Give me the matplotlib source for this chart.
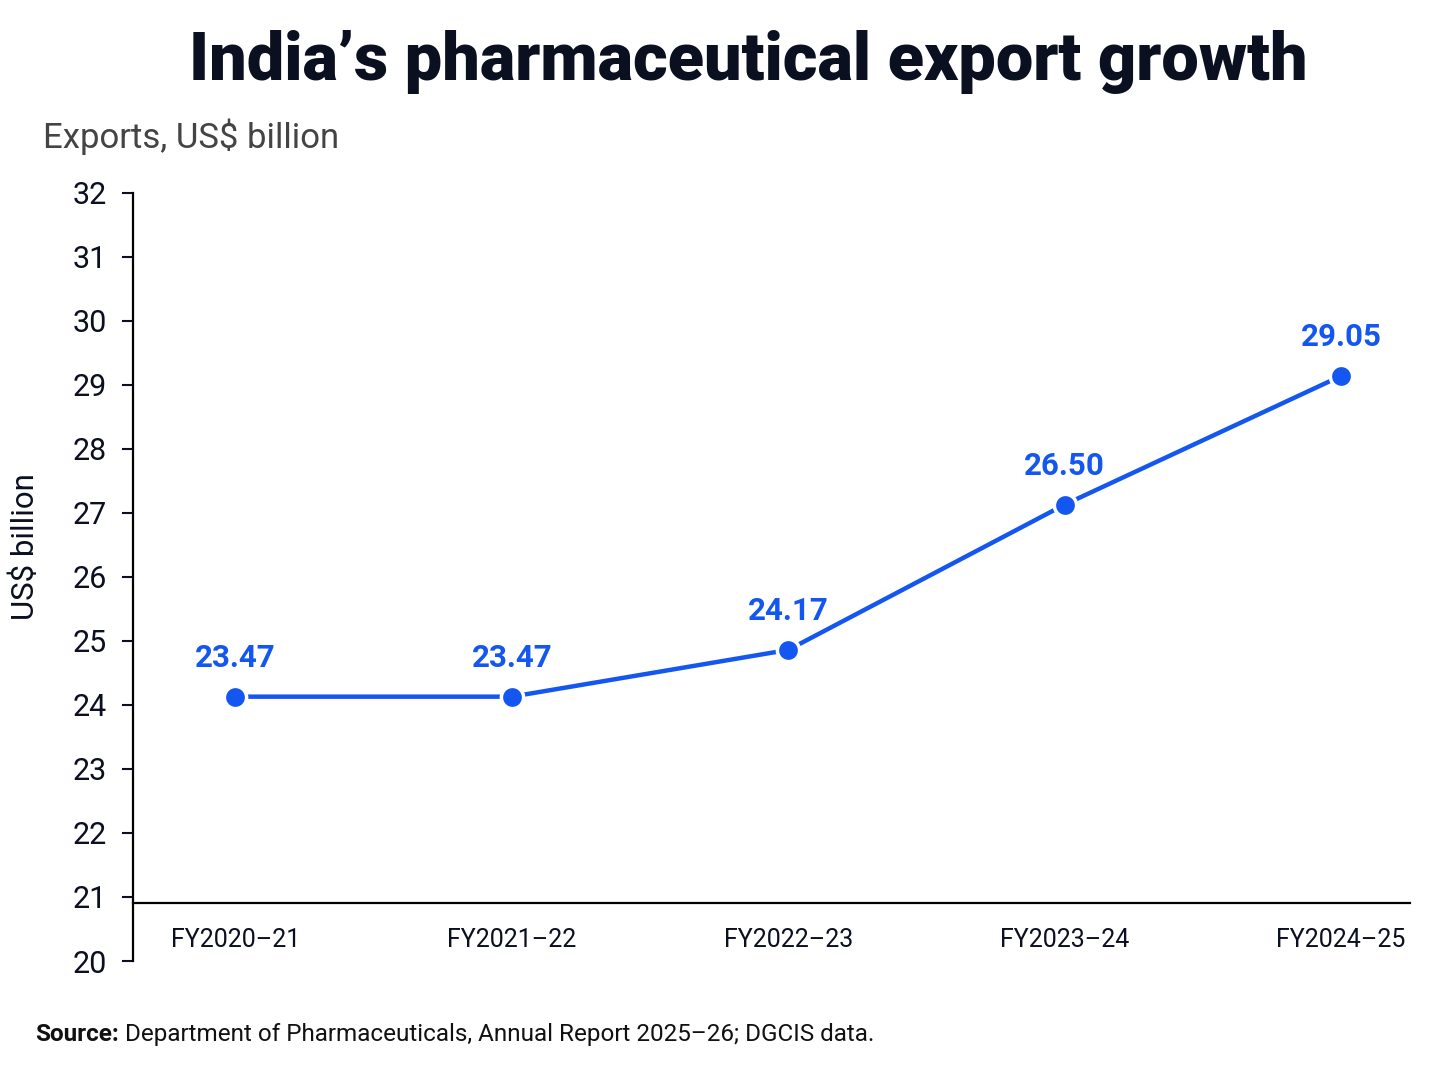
import matplotlib
matplotlib.use("Agg")
from matplotlib import pyplot as plt

# chart data
years = ["FY2020\u201321", "FY2021\u201322", "FY2022\u201323", "FY2023\u201324", "FY2024\u201325"]
plotted = [24.13, 24.13, 24.86, 27.13, 29.14]   # where the marks sit on the axis
labels = ["23.47", "23.47", "24.17", "26.50", "29.05"]  # printed data labels
yticks = list(range(20, 33))

blue = "#1456F0"
ink = "#0B1020"

plt.rcParams["font.family"] = ["Roboto", "DejaVu Sans"]

fig = plt.figure(figsize=(14.48, 10.86), dpi=100)
ax = fig.add_axes([0.0919, 0.1151, 0.8819, 0.7072])

x = list(range(len(years)))
ax.plot(x, plotted, color=blue, lw=3.2, zorder=2)
ax.plot(x, plotted, "o", color=blue, ms=16, mec="white", mew=2.5, zorder=3)

for xi, yi, lab in zip(x, plotted, labels):
    ax.annotate(lab, (xi, yi), xytext=(0, 17), textcoords="offset points",
                ha="center", va="bottom", color=blue, fontsize=22.5, fontweight="semibold")

ax.set_xlim(-0.37, 4.25)
ax.set_ylim(20, 32)
ax.set_yticks(yticks)
ax.set_xticks(x)
ax.set_xticklabels(years)

# spines: left full height, bottom line lifted above the 20 tick
for s in ["top", "right"]:
    ax.spines[s].set_visible(False)
ax.spines["left"].set_linewidth(1.6)
ax.spines["bottom"].set_linewidth(1.6)
ax.spines["bottom"].set_position(("data", 20.9))

ax.tick_params(axis="y", length=8, width=1.5, labelsize=22, pad=11, colors=ink)
ax.tick_params(axis="x", length=0, labelsize=18, pad=18, colors=ink)

ax.set_ylabel("US$ billion", fontsize=22.5, color=ink)
ax.yaxis.set_label_coords(-0.073, 0.54)

fig.text(0.517, 0.943, "India\u2019s pharmaceutical export growth", ha="center", va="center",
         fontsize=48, fontweight="heavy", color=ink)
fig.text(0.030, 0.874, "Exports, US$ billion", ha="left", va="center", fontsize=25, color="#444444")

src = fig.text(0.024, 0.047, "Source:", ha="left", va="center", fontsize=17.5,
               fontweight="bold", color="#111111")
fig.canvas.draw()
bb = src.get_window_extent()
fig.text((bb.x1 + 6) / fig.bbox.width, 0.047,
         "Department of Pharmaceuticals, Annual Report 2025\u201326; DGCIS data.",
         ha="left", va="center", fontsize=17.5, color="#111111")

fig.savefig("out.png", dpi=100, facecolor="white")
